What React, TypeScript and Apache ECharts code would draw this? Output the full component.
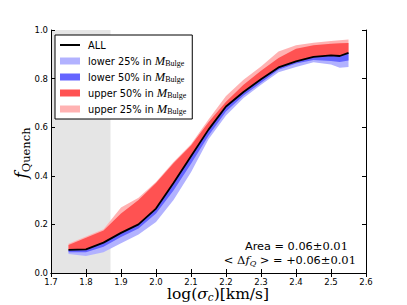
import React, { useEffect, useRef } from "react";
import * as echarts from "echarts";

// ---- data ----
const xs = [1.75, 1.8, 1.85, 1.9, 1.95, 2.0, 2.05, 2.1, 2.15, 2.2, 2.25, 2.3, 2.35, 2.4, 2.45, 2.5, 2.525, 2.55];
const allY = [0.095, 0.097, 0.125, 0.165, 0.2, 0.265, 0.37, 0.48, 0.59, 0.685, 0.745, 0.797, 0.846, 0.871, 0.889, 0.896, 0.893, 0.906];
const upper50Top = [0.115, 0.145, 0.175, 0.245, 0.3, 0.37, 0.452, 0.525, 0.62, 0.705, 0.775, 0.832, 0.885, 0.923, 0.937, 0.943, 0.945, 0.947];
const upper25Top = [0.12, 0.15, 0.18, 0.27, 0.31, 0.375, 0.457, 0.53, 0.632, 0.728, 0.795, 0.85, 0.912, 0.937, 0.948, 0.955, 0.958, 0.961];
const lower50Bottom = [0.085, 0.085, 0.108, 0.148, 0.183, 0.245, 0.34, 0.45, 0.565, 0.665, 0.73, 0.783, 0.836, 0.862, 0.877, 0.872, 0.868, 0.874];
const lower25Bottom = [0.078, 0.07, 0.085, 0.122, 0.158, 0.21, 0.3, 0.415, 0.55, 0.648, 0.72, 0.775, 0.826, 0.848, 0.867, 0.858, 0.845, 0.848];
const shadeRange = [1.7, 1.87];
const xTicks = { min: 1.7, max: 2.6, step: 0.1 };
const yTicks = { min: 0, max: 1, step: 0.2 };
const legendNames = ["ALL", "lower 25%", "lower 50%", "upper 50%", "upper 25%"];
const annotation1 = ["Area = 0.06", "±0.01"];
const annotation2 = ["< Δ", "f", "Q", " >", " = +0.06", "±0.01"];

const SERIF = '"Liberation Serif", "DejaVu Serif", serif';
const DSERIF = '"DejaVu Serif", "Liberation Serif", serif';
const SANS = '"DejaVu Sans", "Liberation Sans", sans-serif';

const COLORS: Record<string, string> = {
  "lower 25%": "#b2b2ff",
  "lower 50%": "#6464ff",
  "upper 50%": "#ff5252",
  "upper 25%": "#ffb2b2",
};

function band(name: string, lower: number[], upper: number[], z: number) {
  const color = COLORS[name];
  return {
    type: "custom",
    name,
    z,
    xAxisIndex: 0,
    yAxisIndex: 0,
    clip: true,
    itemStyle: { color },
    encode: { x: 0, y: [1, 2] },
    data: xs.map((x, i) => [x, lower[i], upper[i]]),
    renderItem: (params: any, api: any) => {
      if (params.dataIndex !== 0) return null;
      const top = xs.map((x, i) => api.coord([x, upper[i]]));
      const bot = xs.map((x, i) => api.coord([x, lower[i]])).reverse();
      return {
        type: "polygon",
        shape: { points: top.concat(bot) },
        style: { fill: color, stroke: null },
      };
    },
  };
}

export default function App() {
  const ref = useRef<HTMLDivElement>(null);
  useEffect(() => {
    if (!ref.current) return;
    const chart = echarts.init(ref.current, null, { renderer: "svg" });
    const axisCommon = {
      type: "value",
      axisLine: { show: true, lineStyle: { color: "#000", width: 1 } },
      axisTick: { show: true, inside: true, length: 4, lineStyle: { color: "#000" } },
      splitLine: { show: false },
    };
    const labelCommon = {
      color: "#000",
      fontSize: 8.5,
      fontFamily: SANS,
      formatter: (v: number) => v.toFixed(1),
    };
    const option: any = {
      animation: false,
      backgroundColor: "#fff",
      grid: { left: 51, right: 41, top: 30, bottom: 32, containLabel: false },
      xAxis: [
        { ...axisCommon, position: "bottom", min: xTicks.min, max: xTicks.max, interval: xTicks.step, axisLabel: { ...labelCommon, margin: 4 } },
        { ...axisCommon, position: "top", min: xTicks.min, max: xTicks.max, interval: xTicks.step, axisLabel: { show: false } },
      ],
      yAxis: [
        { ...axisCommon, position: "left", min: yTicks.min, max: yTicks.max, interval: yTicks.step, axisLabel: { ...labelCommon, margin: 3 } },
        { ...axisCommon, position: "right", min: yTicks.min, max: yTicks.max, interval: yTicks.step, axisLabel: { show: false } },
      ],
      legend: {
        orient: "vertical",
        left: 55,
        top: 35,
        padding: [3, 6, 3, 5],
        itemGap: 2,
        itemWidth: 20,
        itemHeight: 7,
        backgroundColor: "#fff",
        borderColor: "#000",
        borderWidth: 1,
        borderRadius: 0,
        selectedMode: false,
        data: legendNames.map((n) => ({
          name: n,
          icon: n === "ALL" ? "path://M0,0 L20,0 L20,2 L0,2 Z" : "rect",
        })),
        formatter: (name: string) => (name === "ALL" ? "{t|ALL}" : `{t|${name} in }{m|M}{s|Bulge}`),
        textStyle: {
          color: "#000",
          fontFamily: SANS,
          fontSize: 9.8,
          lineHeight: 14,
          padding: [0, 0, 0, 3],
          rich: {
            t: { fontFamily: SANS, fontSize: 9.8, color: "#000", lineHeight: 14 },
            m: { fontFamily: SERIF, fontStyle: "italic", fontSize: 12.5, color: "#000", lineHeight: 14 },
            s: { fontFamily: SERIF, fontSize: 8, color: "#000", padding: [5, 0, 0, 0], lineHeight: 14 },
          },
        },
      },
      series: [
        {
          type: "custom",
          name: "shade",
          z: -1,
          silent: true,
          xAxisIndex: 0,
          yAxisIndex: 0,
          data: [[shadeRange[0], shadeRange[1]]],
          encode: { x: [0, 1] },
          renderItem: (params: any, api: any) => {
            const a = api.coord([shadeRange[0], yTicks.max]);
            const b = api.coord([shadeRange[1], yTicks.min]);
            return {
              type: "rect",
              shape: { x: a[0], y: a[1], width: b[0] - a[0], height: b[1] - a[1] },
              style: { fill: "#e5e5e5" },
            };
          },
        },
        band("upper 25%", allY, upper25Top, 2),
        band("upper 50%", allY, upper50Top, 3),
        band("lower 25%", lower25Bottom, allY, 4),
        band("lower 50%", lower50Bottom, allY, 5),
        {
          type: "line",
          name: "ALL",
          z: 10,
          xAxisIndex: 0,
          yAxisIndex: 0,
          symbol: "none",
          showSymbol: false,
          smooth: false,
          lineStyle: { color: "#000", width: 1.8 },
          itemStyle: { color: "#000" },
          data: xs.map((x, i) => [x, allY[i]]),
        },
      ],
      graphic: [
        {
          type: "text",
          x: 218,
          y: 294,
          style: {
            text: "{r|log(}{i|σ}{s|c}{r|)[km/s]}",
            align: "center",
            verticalAlign: "middle",
            textAlign: "center",
            textVerticalAlign: "middle",
            rich: {
              r: { fontFamily: DSERIF, fontSize: 15.5, fill: "#000", lineHeight: 16 },
              i: { fontFamily: DSERIF, fontSize: 15.5, fontStyle: "italic", fill: "#000", lineHeight: 16 },
              s: { fontFamily: DSERIF, fontSize: 10.5, fontStyle: "italic", fill: "#000", padding: [6, 0, 0, 0], lineHeight: 16 },
            },
          },
        },
        {
          type: "text",
          x: 21,
          y: 153,
          rotation: Math.PI / 2,
          style: {
            text: "{i|f}{s|Quench}",
            align: "center",
            verticalAlign: "middle",
            textAlign: "center",
            textVerticalAlign: "middle",
            rich: {
              i: { fontFamily: DSERIF, fontSize: 17, fontStyle: "italic", fill: "#000" },
              s: { fontFamily: DSERIF, fontSize: 11.5, fill: "#000", padding: [9, 0, 0, 0] },
            },
          },
        },
        {
          type: "text",
          x: 348,
          y: 246,
          style: {
            text: `{a|${annotation1[0]}}{b|${annotation1[1]}}`,
            align: "right",
            verticalAlign: "middle",
            textAlign: "right",
            textVerticalAlign: "middle",
            rich: {
              a: { fontFamily: SANS, fontSize: 11.3, fill: "#000" },
              b: { fontFamily: DSERIF, fontSize: 11.5, fill: "#000" },
            },
          },
        },
        {
          type: "text",
          x: 356,
          y: 260,
          style: {
            text: `{b|${annotation2[0]}}{i|${annotation2[1]}}{s|${annotation2[2]}}{b|${annotation2[3]}}{a|${annotation2[4]}}{b|${annotation2[5]}}`,
            align: "right",
            verticalAlign: "middle",
            textAlign: "right",
            textVerticalAlign: "middle",
            rich: {
              a: { fontFamily: SANS, fontSize: 11.3, fill: "#000" },
              b: { fontFamily: DSERIF, fontSize: 11.5, fill: "#000" },
              i: { fontFamily: DSERIF, fontSize: 11.5, fontStyle: "italic", fill: "#000" },
              s: { fontFamily: DSERIF, fontSize: 8, fontStyle: "italic", fill: "#000", padding: [6, 0, 0, 0] },
            },
          },
        },
      ],
    };
    chart.setOption(option);
    return () => chart.dispose();
  }, []);
  return (
    <div
      ref={ref}
      style={{ position: "absolute", left: 0, top: 0, width: 407, height: 305, background: "#fff" }}
    />
  );
}
